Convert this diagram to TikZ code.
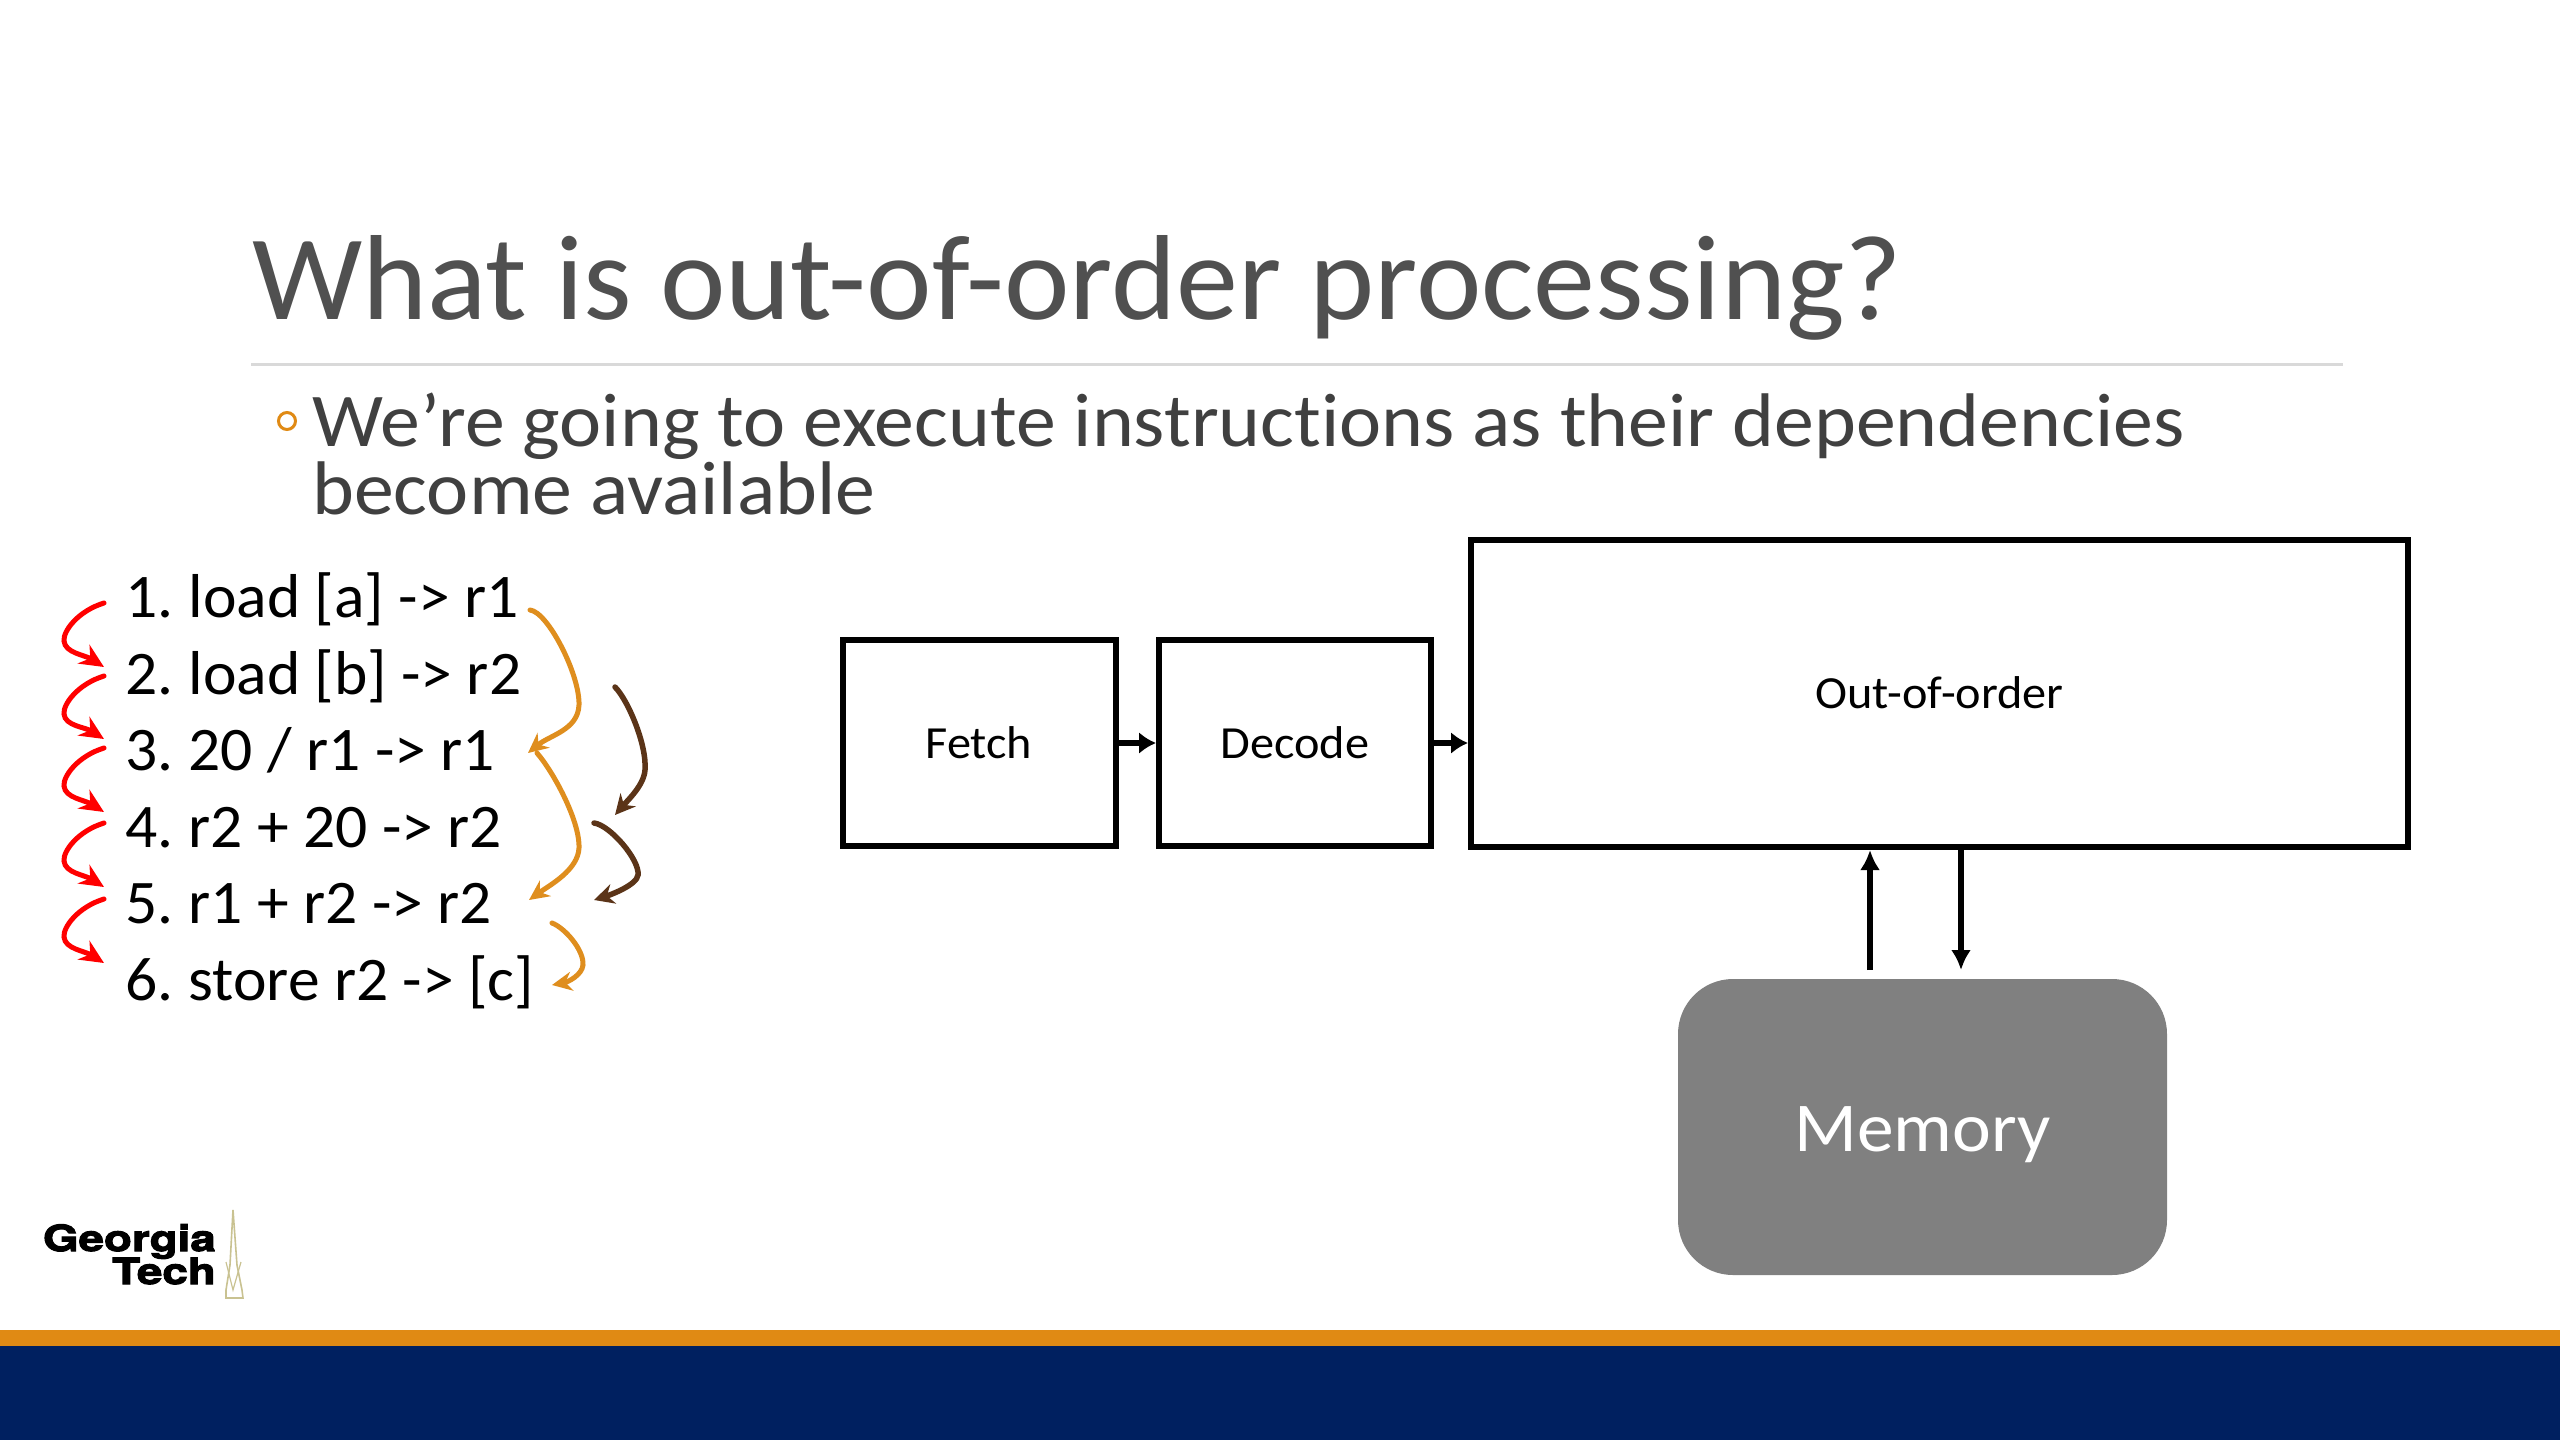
\documentclass[tikz,border=0pt]{standalone}
\usepackage{fontspec}
\setmainfont{Carlito}[Ligatures={NoCommon}]
\newfontfamily\widefont[FakeStretch=1.05,Ligatures={NoCommon}]{Carlito}
\newfontfamily\listfont[FakeStretch=1.025,Ligatures={NoCommon}]{Carlito}
\newfontfamily\logofont[FakeBold=3,FakeStretch=1.27]{TeX Gyre Heros Bold}
\usetikzlibrary{arrows.meta}
\definecolor{gtorange}{HTML}{E08A14}
\definecolor{gtnavy}{HTML}{002060}
\definecolor{bodygray}{HTML}{404040}
\definecolor{titlegray}{HTML}{505050}
\definecolor{rulegray}{HTML}{D9D9D9}
\definecolor{depbrown}{HTML}{5B3418}
\definecolor{deporange}{HTML}{DF8E1E}
\definecolor{spire}{HTML}{C9C291}
\newcommand{\numgap}{\kern-4pt}
\tikzset{
  x=1pt,y=-1pt,
  stage/.style={draw=black,line width=6pt,inner sep=0pt,anchor=center,font=\widefont\fontsize{46}{50}\selectfont},
  flow/.style={draw=black,line width=6pt,-{Latex[length=17pt,width=22pt]}},
  memflow/.style={draw=black,line width=5.5pt,-{Latex[length=20pt,width=20pt]}},
  listline/.style={anchor=base west,inner sep=0pt,font=\listfont\fontsize{62}{60}\selectfont},
  order/.style={draw=red,line width=5pt,line cap=round,-{Stealth[length=24pt,width=22pt]}},
  regdep/.style={draw=deporange,line width=5pt,line cap=round,-{Stealth[length=20pt,width=19pt]}},
  brndep/.style={draw=depbrown,line width=5.5pt,line cap=round,-{Stealth[length=20pt,width=20pt]}},
  slidetext/.style={anchor=base west,inner sep=0pt,text=bodygray},
}
\begin{document}
\begin{tikzpicture}
\useasboundingbox (0,0) rectangle (2560,1440);
\fill[white] (0,0) rectangle (2560,1440);
% footer
\fill[gtnavy] (0,1344) rectangle (2560,1440);
\fill[gtorange] (0,1330) rectangle (2560,1346);
% title
\node[slidetext,text=titlegray,font=\listfont\fontsize{121}{121}\selectfont] (title) at (252,319) {What is out-of-order processing?};
\coordinate (ruleL) at (251,364);
\coordinate (ruleR) at (2343,364);
\draw[rulegray,line width=3pt] (ruleL) -- (ruleR);
% bullet
\node[circle,draw=gtorange,line width=3pt,minimum size=17pt,inner sep=0pt] (bullet) at (287,421) {};
\node[slidetext,font=\widefont\fontsize{76}{76}\selectfont] (body1) at (312,446) {We’re going to execute instructions as their dependencies};
\node[slidetext,font=\widefont\fontsize{76}{76}\selectfont] (body2) at (312,514) {become available};
% list
\node[listline] (l1) at (125,617) {1.\numgap{} load [a] -> r1};
\node[listline] (l2) at (125,694) {2.\numgap{} load [b] -> r2};
\node[listline] (l3) at (125,770) {3.\numgap{} 20 / r1 -> r1};
\node[listline] (l4) at (125,847) {4.\numgap{} r2 + 20 -> r2};
\node[listline] (l5) at (125,923) {5.\numgap{} r1 + r2 -> r2};
\node[listline] (l6) at (125,1000) {6.\numgap{} store r2 -> [c]};
% order arrows
\foreach \ya/\yb [count=\i] in {603/667,676/739,748/812,823/887,899/963}{
  \coordinate (oa\i) at (104,\ya);
  \coordinate (ob\i) at (104,\yb);
  \draw[order] (oa\i) .. controls (78,\ya+8) and (63,\ya+28) .. (64,\ya+38)
     .. controls (65,\ya+50) and (85,\yb-12) .. (ob\i);
}
% register dependencies
\coordinate (r1a) at (530,610); \coordinate (r1b) at (528,753);
\coordinate (r2a) at (537,753); \coordinate (r2b) at (529,900);
\coordinate (r3a) at (552,923); \coordinate (r3b) at (552,985);
\coordinate (b1a) at (615,687); \coordinate (b1b) at (615,815);
\coordinate (b2a) at (594,823); \coordinate (b2b) at (594,900);
\draw[regdep] (r1a) .. controls (548,612) and (580,675) .. (579,705) .. controls (578,730) and (550,735) .. (r1b);
\draw[regdep] (r2a) .. controls (552,770) and (580,820) .. (579,848) .. controls (578,870) and (550,885) .. (r2b);
\draw[regdep] (r3a) .. controls (565,928) and (584,950) .. (583,965) .. controls (582,975) and (568,982) .. (r3b);
\draw[brndep] (b1a) .. controls (628,700) and (647,745) .. (645,770) .. controls (644,785) and (628,800) .. (b1b);
\draw[brndep] (b2a) .. controls (610,825) and (640,860) .. (638,875) .. controls (637,885) and (610,895) .. (b2b);
% boxes
\node[stage,minimum width=273pt,minimum height=206pt] (fetch) at (979,743) {Fetch};
\node[stage,minimum width=272pt,minimum height=206pt] (decode) at (1295,743) {Decode};
\node[stage,minimum width=937pt,minimum height=307pt] (ooo) at (1939.5,693) {Out-of-order};
\draw[flow] (fetch.east) -- (decode.west);
\draw[flow] (decode.east) -- (decode.east -| ooo.west);
\node[draw=none,fill=black!50,rounded corners=55pt,minimum width=489pt,minimum height=296pt,inner sep=0pt,text=white,font=\widefont\fontsize{70}{70}\selectfont,text depth=12pt,text height=60pt] (mem) at (1922.5,1127) {Memory};
\coordinate (upA) at (1870,970); \coordinate (upB) at (1870,850);
\coordinate (dnA) at (1961,848); \coordinate (dnB) at (1961,970);
\draw[memflow] (upA) -- (upB);
\draw[memflow] (dnA) -- (dnB);
% logo
\node[anchor=base east,inner sep=0pt,font=\logofont\fontsize{36}{36}\selectfont] (geo) at (216,1251) {Georgia};
\node[anchor=base east,inner sep=0pt,font=\logofont\fontsize{36}{36}\selectfont] (tech) at (216,1284) {Tech};
\draw[spire,line width=1.6pt] (233,1210) -- (230,1265) -- (226,1290) -- (226,1298) -- (243,1298) -- (242,1290) -- (237,1265) -- cycle;
\draw[spire,line width=1.2pt] (226,1262) -- (233,1290) -- (241,1262);
\end{tikzpicture}
\end{document}
